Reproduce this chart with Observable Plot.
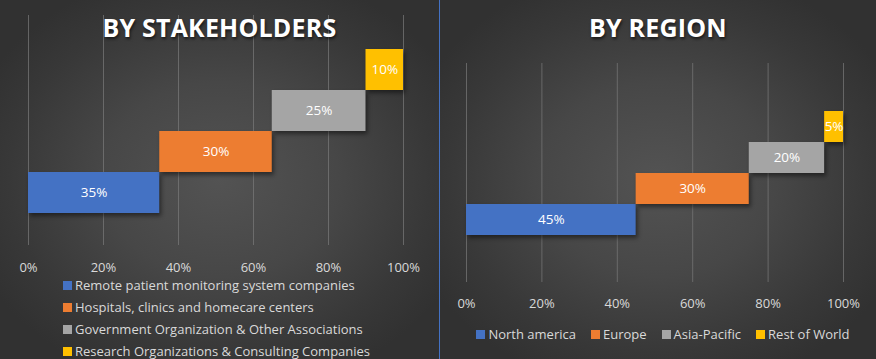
<!DOCTYPE html>
<html><head><meta charset="utf-8">
<script src="https://cdn.jsdelivr.net/npm/d3@7"></script>
<script src="https://cdn.jsdelivr.net/npm/@observablehq/plot@0.6"></script>
<style>
body{margin:0;background:#333;}
#wrap{position:relative;width:876px;height:359px;overflow:hidden;font-family:"Open Sans",sans-serif;}
.panel{position:absolute;top:0;height:359px;background:radial-gradient(ellipse 60% 60% at 50% 50%, #535353 0%, #474747 45%, #383838 80%, #313131 100%);}
#left{left:0;width:439px}
#right{left:440px;width:436px}
#divider{position:absolute;left:439px;top:0;width:1px;height:359px;background:#4472C4}
.title{position:absolute;left:0;right:0;top:12px;text-align:center;color:#fff;font-weight:700;font-size:25px;line-height:30px;letter-spacing:0.2px;text-shadow:1px 2px 3px rgba(0,0,0,0.6);z-index:2}
.plot{position:absolute;left:0;top:0;z-index:1}
.plot rect{filter:drop-shadow(2px 3px 2px rgba(0,0,0,0.45));}
.leg{position:absolute;color:#d9d9d9;font-size:13px;line-height:16px;}
.leg .it{display:flex;align-items:center;white-space:nowrap}
.leg .sw{width:9px;height:9px;margin-right:3px;flex:none}
#legL{left:63px;top:274px}
#legL .it{height:22px}
#legR{left:0;right:0;top:326px;display:flex;justify-content:center;gap:15px;padding-left:10px}
</style>
</head><body>
<div id="wrap">
  <div class="panel" id="left"><div class="plot" id="plotL"></div><div class="title">BY STAKEHOLDERS</div><div class="leg" id="legL"></div></div>
  <div id="divider"></div>
  <div class="panel" id="right"><div class="plot" id="plotR"></div><div class="title">BY REGION</div><div class="leg" id="legR"></div></div>
</div>
<script>
// ---- data ----
const stakeholderCategories = ["Remote patient monitoring system companies","Hospitals, clinics and homecare centers","Government Organization & Other Associations","Research Organizations & Consulting Companies"];
const stakeholderValues = [35, 30, 25, 10];
const regionCategories = ["North america","Europe","Asia-Pacific","Rest of World"];
const regionValues = [45, 30, 20, 5];
const xTicks = [0, 20, 40, 60, 80, 100];
const seriesColors = ["#4472C4","#ED7D31","#A5A5A5","#FFC000"];

function build(cats, vals) {
  let acc = 0;
  return cats.map((c, i) => {
    const r = {cat: c, start: acc, end: acc + vals[i], value: vals[i], color: seriesColors[i]};
    acc += vals[i];
    return r;
  });
}

function waterfall(cats, vals, opts) {
  const data = build(cats, vals);
  return Plot.plot({
    width: opts.width, height: opts.height,
    marginTop: opts.mt, marginBottom: opts.mb, marginLeft: opts.ml, marginRight: opts.mr,
    style: {background: "transparent", color: "#d9d9d9", fontSize: "13px", fontFamily: "'Open Sans', sans-serif", overflow: "visible"},
    x: {domain: [0, 100], ticks: xTicks, tickFormat: d => d + "%", tickSize: 0, tickPadding: opts.tp, label: null},
    y: {type: "band", domain: cats.slice().reverse(), paddingInner: 0, paddingOuter: opts.po, align: opts.al, axis: null},
    marks: [
      Plot.ruleX(xTicks, {stroke: "#7a7a7a", strokeWidth: 1, strokeOpacity: 0.7}),
      Plot.barX(data, {x1: "start", x2: "end", y: "cat", fill: "color", inset: 0}),
      Plot.text(data, {x: d => (d.start + d.end) / 2, y: "cat", text: d => d.value + "%", fill: "#ffffff", fontSize: 13.5})
    ]
  });
}

document.getElementById("plotL").appendChild(
  waterfall(stakeholderCategories, stakeholderValues, {width: 439, height: 275, mt: 15, mb: 30, ml: 28, mr: 36, tp: 17, po: 0.755, al: 0.52}));
document.getElementById("plotR").appendChild(
  waterfall(regionCategories, regionValues, {width: 436, height: 312, mt: 63, mb: 30, ml: 26, mr: 33, tp: 16, po: 1.53, al: 0.5}));

function legend(el, cats) {
  cats.forEach((c, i) => {
    const it = document.createElement("div"); it.className = "it";
    const sw = document.createElement("span"); sw.className = "sw"; sw.style.background = seriesColors[i];
    const tx = document.createElement("span"); tx.textContent = c;
    it.appendChild(sw); it.appendChild(tx); el.appendChild(it);
  });
}
legend(document.getElementById("legL"), stakeholderCategories);
legend(document.getElementById("legR"), regionCategories);
</script>
</body></html>
